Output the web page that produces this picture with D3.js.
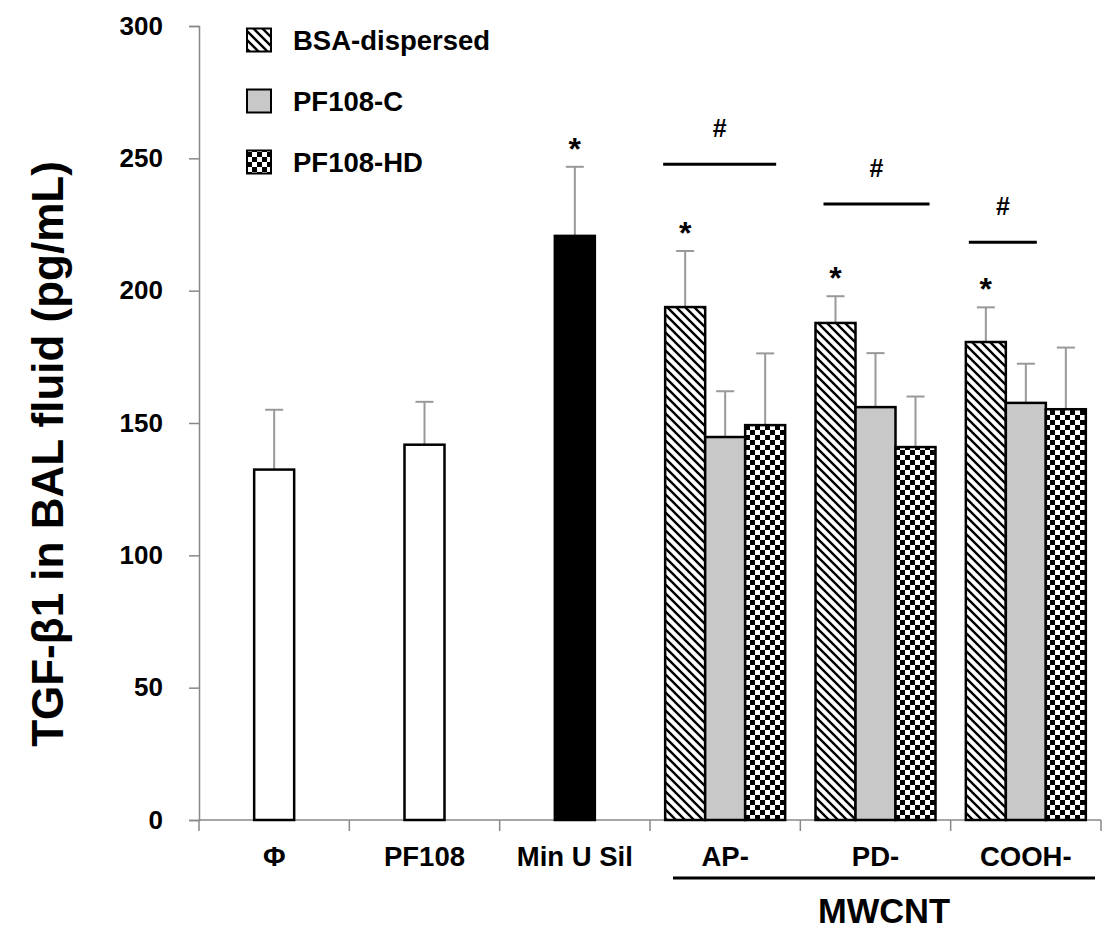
<!DOCTYPE html>
<html>
<head>
<meta charset="utf-8">
<script src="https://cdn.jsdelivr.net/npm/d3@7"></script>
<style>
  body { margin: 0; background: #fff; }
  svg text { font-family: "Liberation Sans", Arial, sans-serif; font-weight: bold; fill: #000; }
</style>
</head>
<body>
<div id="chart"></div>
<script>
// categories along the x axis
var categories = ["Φ", "PF108", "Min U Sil", "AP-", "PD-", "COOH-"];

// control groups (single bars)
var singleCats = ["Φ", "PF108", "Min U Sil"];
var singleMeans = [132.4, 141.8, 220.7];
var singleErrs = [22.6, 16.2, 26.1];
var singleStar = [false, false, true];

// MWCNT groups, three dispersions each
var groups = ["AP-", "PD-", "COOH-"];
var series = ["BSA-dispersed", "PF108-C", "PF108-HD"];
var bsaMeans = [193.8, 187.8, 180.6];
var bsaErrs = [21.2, 10.1, 13.1];
var pfcMeans = [144.7, 156.0, 157.6];
var pfcErrs = [17.3, 20.4, 14.8];
var pfhdMeans = [149.2, 140.9, 155.2];
var pfhdErrs = [27.1, 19.1, 23.3];

// "#" bracket levels for each group
var bracketLevels = [247.8, 232.7, 218.3];

var yTicks = [0, 50, 100, 150, 200, 250, 300];

window.onload = function() {

var width = 1107, height = 931;

var svg = d3.select("#chart")
            .append("svg")
            .attr("width", width)
            .attr("height", height);

// fill patterns
var defs = svg.append("defs");

var hatch = defs.append("pattern")
   .attr("id", "hatch")
   .attr("patternUnits", "userSpaceOnUse")
   .attr("width", 9)
   .attr("height", 9);
hatch.append("rect").attr("width", 9).attr("height", 9).attr("fill", "#fff");
hatch.append("path")
   .attr("d", "M-1,-1 L10,10 M-1,8 L1,10 M8,-1 L10,1")
   .attr("stroke", "#000")
   .attr("stroke-width", 2.4);

var checker = defs.append("pattern")
   .attr("id", "checker")
   .attr("patternUnits", "userSpaceOnUse")
   .attr("width", 10)
   .attr("height", 10);
checker.append("rect").attr("width", 10).attr("height", 10).attr("fill", "#fff");
checker.append("rect").attr("width", 5).attr("height", 5).attr("fill", "#000");
checker.append("rect").attr("x", 5).attr("y", 5).attr("width", 5).attr("height", 5).attr("fill", "#000");

var fills = ["url(#hatch)", "#c8c8c8", "url(#checker)"];

// scales
var x = d3.scaleBand()
          .domain(categories)
          .range([199, 1101]);

var y = d3.scaleLinear()
          .domain([0, 300])
          .range([820, 26]);

var sub = d3.scaleBand()
            .domain(series)
            .range([0, 120]);

var barW = 40;

// y axis
var yAxis = svg.append("g")
   .attr("transform", "translate(199,0)")
   .call(d3.axisLeft(y).tickValues(yTicks).tickSize(10).tickPadding(26));
yAxis.select(".domain").attr("stroke", "#888").attr("stroke-width", 1.5);
yAxis.selectAll(".tick line").attr("stroke", "#888").attr("stroke-width", 1.5);
yAxis.selectAll(".tick text")
   .attr("font-size", "26px")
   .attr("font-family", "Liberation Sans, Arial, sans-serif")
   .attr("font-weight", "bold")
   .attr("fill", "#000");

// x axis line and band ticks
svg.append("line")
   .attr("x1", x.range()[0])
   .attr("x2", x.range()[1])
   .attr("y1", y(0))
   .attr("y2", y(0))
   .attr("stroke", "#888")
   .attr("stroke-width", 1.5);

var bounds = categories.map(function(c) { return x(c); }).concat([x.range()[1]]);
svg.selectAll("xtick")
   .data(bounds)
   .enter()
   .append("line")
   .attr("x1", function(d) { return d; })
   .attr("x2", function(d) { return d; })
   .attr("y1", y(0))
   .attr("y2", y(0) + 11)
   .attr("stroke", "#888")
   .attr("stroke-width", 1.5);

// category labels
svg.selectAll("catlabel")
   .data(categories)
   .enter()
   .append("text")
   .text(function(d) { return d; })
   .attr("x", function(d) { return x(d) + x.bandwidth() / 2; })
   .attr("y", 866)
   .attr("text-anchor", "middle")
   .attr("font-size", "27.5px");

// MWCNT underline and label
var mwLeft = x("AP-") + 23, mwRight = x("COOH-") + x.bandwidth() - 6;
svg.append("line")
   .attr("x1", mwLeft)
   .attr("x2", mwRight)
   .attr("y1", 878)
   .attr("y2", 878)
   .attr("stroke", "#000")
   .attr("stroke-width", 3);
svg.append("text")
   .text("MWCNT")
   .attr("x", (mwLeft + mwRight) / 2)
   .attr("y", 923)
   .attr("text-anchor", "middle")
   .attr("font-size", "34.5px");

// y axis title
svg.append("text")
   .text("TGF-β1 in BAL fluid (pg/mL)")
   .attr("transform", "translate(63,454) rotate(-90)")
   .attr("text-anchor", "middle")
   .attr("font-size", "44px");

// build bar records
var bars = [];
singleCats.forEach(function(c, i) {
  bars.push({
    cx: x(c) + x.bandwidth() / 2,
    mean: singleMeans[i],
    err: singleErrs[i],
    fill: c === "Min U Sil" ? "#000" : "#fff",
    star: singleStar[i]
  });
});
var groupMeans = [bsaMeans, pfcMeans, pfhdMeans];
var groupErrs = [bsaErrs, pfcErrs, pfhdErrs];
groups.forEach(function(g, gi) {
  var left = x(g) + (x.bandwidth() - sub.range()[1]) / 2;
  series.forEach(function(s, si) {
    bars.push({
      cx: left + sub(s) + sub.bandwidth() / 2,
      mean: groupMeans[si][gi],
      err: groupErrs[si][gi],
      fill: fills[si],
      star: si === 0
    });
  });
});

// error bars (upper half)
svg.selectAll("errline")
   .data(bars)
   .enter()
   .append("line")
   .attr("x1", function(d) { return d.cx; })
   .attr("x2", function(d) { return d.cx; })
   .attr("y1", function(d) { return y(d.mean); })
   .attr("y2", function(d) { return y(d.mean + d.err); })
   .attr("stroke", "#999")
   .attr("stroke-width", 2);

svg.selectAll("errcap")
   .data(bars)
   .enter()
   .append("line")
   .attr("x1", function(d) { return d.cx - 9; })
   .attr("x2", function(d) { return d.cx + 9; })
   .attr("y1", function(d) { return y(d.mean + d.err); })
   .attr("y2", function(d) { return y(d.mean + d.err); })
   .attr("stroke", "#999")
   .attr("stroke-width", 2);

// bars
svg.selectAll("bar")
   .data(bars)
   .enter()
   .append("rect")
   .attr("x", function(d) { return d.cx - barW / 2; })
   .attr("y", function(d) { return y(d.mean); })
   .attr("width", barW)
   .attr("height", function(d) { return y(0) - y(d.mean); })
   .attr("fill", function(d) { return d.fill; })
   .attr("stroke", "#000")
   .attr("stroke-width", 2.5);

// significance stars
svg.selectAll("star")
   .data(bars.filter(function(d) { return d.star; }))
   .enter()
   .append("text")
   .text("*")
   .attr("x", function(d) { return d.cx; })
   .attr("y", function(d) { return y(d.mean + d.err) - 7; })
   .attr("text-anchor", "middle")
   .attr("font-size", "32px");

// "#" brackets
var bracketSpan = [[-2, 111], [8, 114], [3, 71]];
groups.forEach(function(g, gi) {
  var left = x(g) + (x.bandwidth() - sub.range()[1]) / 2;
  var x1 = left + bracketSpan[gi][0], x2 = left + bracketSpan[gi][1];
  var ly = y(bracketLevels[gi]);
  svg.append("line")
     .attr("x1", x1)
     .attr("x2", x2)
     .attr("y1", ly)
     .attr("y2", ly)
     .attr("stroke", "#000")
     .attr("stroke-width", 3);
  svg.append("text")
     .text("#")
     .attr("x", (x1 + x2) / 2)
     .attr("y", ly - 27)
     .attr("text-anchor", "middle")
     .attr("font-size", "25px");
});

// legend
var legend = svg.selectAll("legend")
   .data(series)
   .enter()
   .append("g")
   .attr("transform", function(d, i) { return "translate(247," + (40 + i * 61) + ")"; });

legend.append("rect")
   .attr("x", 0)
   .attr("y", -11.5)
   .attr("width", 24)
   .attr("height", 23)
   .attr("fill", function(d, i) { return fills[i]; })
   .attr("stroke", "#000")
   .attr("stroke-width", 2);

legend.append("text")
   .text(function(d) { return d; })
   .attr("x", 46)
   .attr("y", 10)
   .attr("font-size", "27.5px");
};
</script>
</body>
</html>
